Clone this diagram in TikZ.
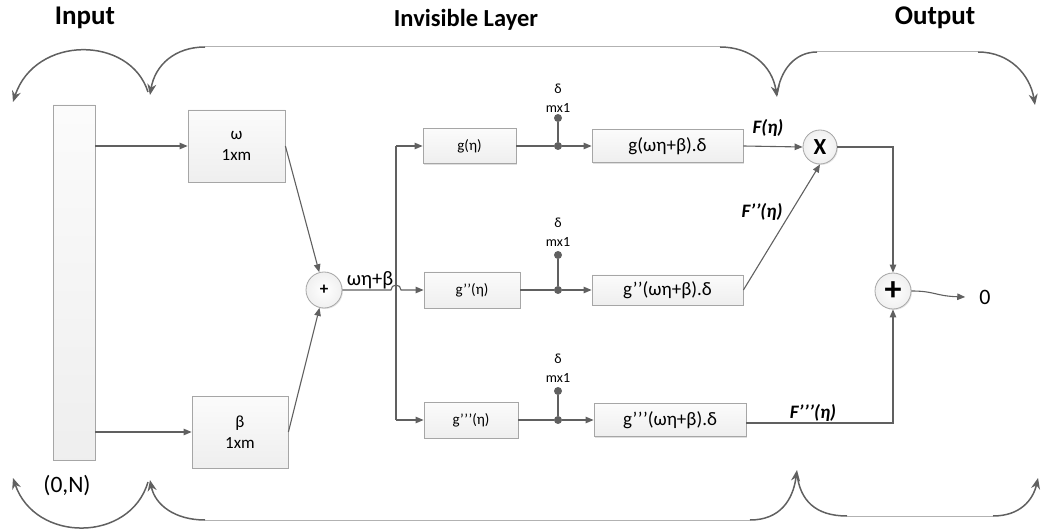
\documentclass[tikz,border=0pt]{standalone}
\usepackage{fontspec}
\setmainfont{Carlito}
\usetikzlibrary{arrows.meta,shadows,calc}
\definecolor{ln}{HTML}{606060}
\definecolor{bd}{HTML}{A6A6A6}
\newcommand{\pp}{’\kern0.4pt’}
\begin{document}
\begin{tikzpicture}[x=1pt,y=1pt,
  line/.style={draw=ln, line width=1.1pt},
  arr/.style={line, -{Triangle[length=8pt,width=6.5pt]}},
  box/.style={draw=bd, line width=0.8pt, top color=gray!3, bottom color=gray!13, inner sep=0pt, align=center,
     drop shadow={shadow xshift=1.2pt, shadow yshift=-1.2pt, opacity=0.25}},
  circ/.style={circle, draw=bd, line width=0.8pt, inner sep=0pt, minimum size=36pt, inner color=white, outer color=gray!12,
     drop shadow={shadow xshift=1pt, shadow yshift=-1pt, opacity=0.2}},
  dotnode/.style={circle, fill=ln, inner sep=0pt, minimum size=8pt},
  brace/.style={draw=ln, line width=1.5pt},
  braceline/.style={draw=gray!60, line width=1pt},
  bracearr/.style={brace, -{Stealth[length=11pt,width=9pt]}},
  title/.style={font=\bfseries\fontsize{27}{30}\selectfont},
  wlab/.style={font=\fontsize{17}{21}\selectfont},
  small/.style={font=\fontsize{15}{18}\selectfont},
  big/.style={font=\fontsize{19}{22}\selectfont},
  lab/.style={font=\fontsize{14}{19}\selectfont, align=center},
  flab/.style={font=\bfseries\itshape\fontsize{19}{21}\selectfont},
]
\useasboundingbox (0,0) rectangle (1041,-529);

% titles
\node[title] (tin) at (85,-18) {Input};
\node[title, font=\bfseries\fontsize{24.5}{28}\selectfont] (tinv) at (466,-20) {Invisible Layer};
\node[title] (tout) at (935,-18) {Output};

% braces top
\draw[bracearr] (148,-92) .. controls (130,-35) and (35,-35) .. (13,-102);
\draw[bracearr] (205,-47) .. controls (175,-47) and (155,-65) .. (150,-95);
\draw[braceline] (205,-47) -- (720,-47);
\draw[bracearr] (720,-47) .. controls (750,-47) and (772,-65) .. (777,-97);
\draw[brace] (817,-52) .. controls (795,-52) and (780,-70) .. (777,-95);
\draw[braceline] (817,-52) -- (978,-52);
\draw[bracearr] (978,-52) .. controls (1010,-52) and (1030,-75) .. (1035,-105);

% braces bottom
\draw[bracearr] (148,-482) .. controls (130,-543) and (35,-543) .. (13,-478);
\draw[bracearr] (205,-520) .. controls (175,-520) and (155,-505) .. (150,-480);
\draw[braceline] (205,-520) -- (750,-520);
\draw[bracearr] (750,-520) .. controls (780,-520) and (793,-500) .. (797,-470);
\draw[brace] (847,-516) .. controls (815,-516) and (800,-500) .. (797,-474);
\draw[braceline] (847,-516) -- (993,-516);
\draw[bracearr] (993,-516) .. controls (1020,-516) and (1033,-500) .. (1038,-478);

% nodes
\node[box, minimum width=42pt, minimum height=355pt] (inp) at (74,-282.5) {};
\node[font=\fontsize{23.5}{26}\selectfont] (n0) at (67,-486) {(0,N)};
\node[box, wlab, minimum width=97pt, minimum height=72pt] (w) at (236.5,-146) {ω\\1xm};
\node[box, wlab, minimum width=96pt, minimum height=72pt] (b) at (240,-432) {β\\1xm};
\node[circ, font=\bfseries\fontsize{17}{17}\selectfont] (plus) at (324,-290) {+};
\node[font=\fontsize{20.5}{24}\selectfont] (lsum) at (370,-280) {ωη+β};
\coordinate (split) at (396,-290);
\coordinate (top) at (396,-146);
\coordinate (bot) at (396,-420);

\node[box, small, minimum width=93pt, minimum height=35pt] (g1) at (469.5,-146) {g(η)};
\node[box, small, minimum width=96pt, minimum height=36pt] (g2) at (472,-290) {g\pp(η)};
\node[box, small, minimum width=94pt, minimum height=36pt] (g3) at (471,-420) {g\pp\kern0.4pt’(η)};

\node[dotnode] (d1) at (558,-118) {};
\node[dotnode] (j1) at (558,-146) {};
\node[dotnode] (d2) at (558,-255) {};
\node[dotnode] (j2) at (558,-290) {};
\node[dotnode] (d3) at (558,-391) {};
\node[dotnode] (j3) at (558,-420) {};
\node[lab] (l1) at (558,-98) {δ\\mx1};
\node[lab] (l2) at (558,-232) {δ\\mx1};
\node[lab] (l3) at (558,-368.5) {δ\\mx1};

\node[box, big, minimum width=151pt, minimum height=33pt] (p1) at (667.5,-146) {g(ωη+β).δ};
\node[box, big, minimum width=151pt, minimum height=30pt] (p2) at (667.5,-290) {g\pp(ωη+β).δ};
\node[box, big, minimum width=152pt, minimum height=33pt] (p3) at (670,-420) {g\pp\kern0.4pt’(ωη+β).δ};

\node[circ, minimum size=34pt, font=\bfseries\fontsize{23}{25}\selectfont] (X) at (820,-147) {X};
\node[circ, font=\bfseries\fontsize{34}{34}\selectfont] (S) at (893,-291) {+};
\node[font=\fontsize{22}{24}\selectfont, inner xsep=14pt] (zero) at (985,-297) {0};

\node[flab] (f1) at (768,-128) {F(η)};
\node[flab] (f2) at (762,-212) {F\pp(η)};
\node[flab] (f3) at (813,-413) {F\pp\kern0.4pt’(η)};

% connectors
\draw[arr] (inp.east |- w.west) -- (w.west);
\draw[arr] (inp.east |- b.west) -- (b.west);
\draw[arr] (w.east) -- (plus);
\draw[arr] (b.east) -- (plus);
\draw[arr] (plus.east) -- ([xshift=-5pt]split) arc[start angle=180, end angle=0, radius=5pt] -- (g2.west);
\draw[line] (top) -- (bot);
\draw[arr] (top) -- (g1.west);
\draw[arr] (bot) -- (g3.west);

\draw[line] (g1.east) -- (j1);
\draw[line] (d1) -- (j1);
\draw[arr] (j1) -- (p1.west);
\draw[line] (g2.east) -- (j2);
\draw[line] (d2) -- (j2);
\draw[arr] (j2) -- (p2.west);
\draw[line] (g3.east) -- (j3);
\draw[line] (d3) -- (j3);
\draw[arr] (j3) -- (p3.west);

\draw[arr] (p1.east) -- (X.west);
\draw[arr] (p2.east) -- (X.south);
\draw[arr] (X.east) -| (S.north);
\draw[arr] ([yshift=-3pt]p3.east) -| (S.south);
\draw[arr] (S.east) .. controls (935,-291) and (935,-296) .. (zero.west);
\end{tikzpicture}
\end{document}
